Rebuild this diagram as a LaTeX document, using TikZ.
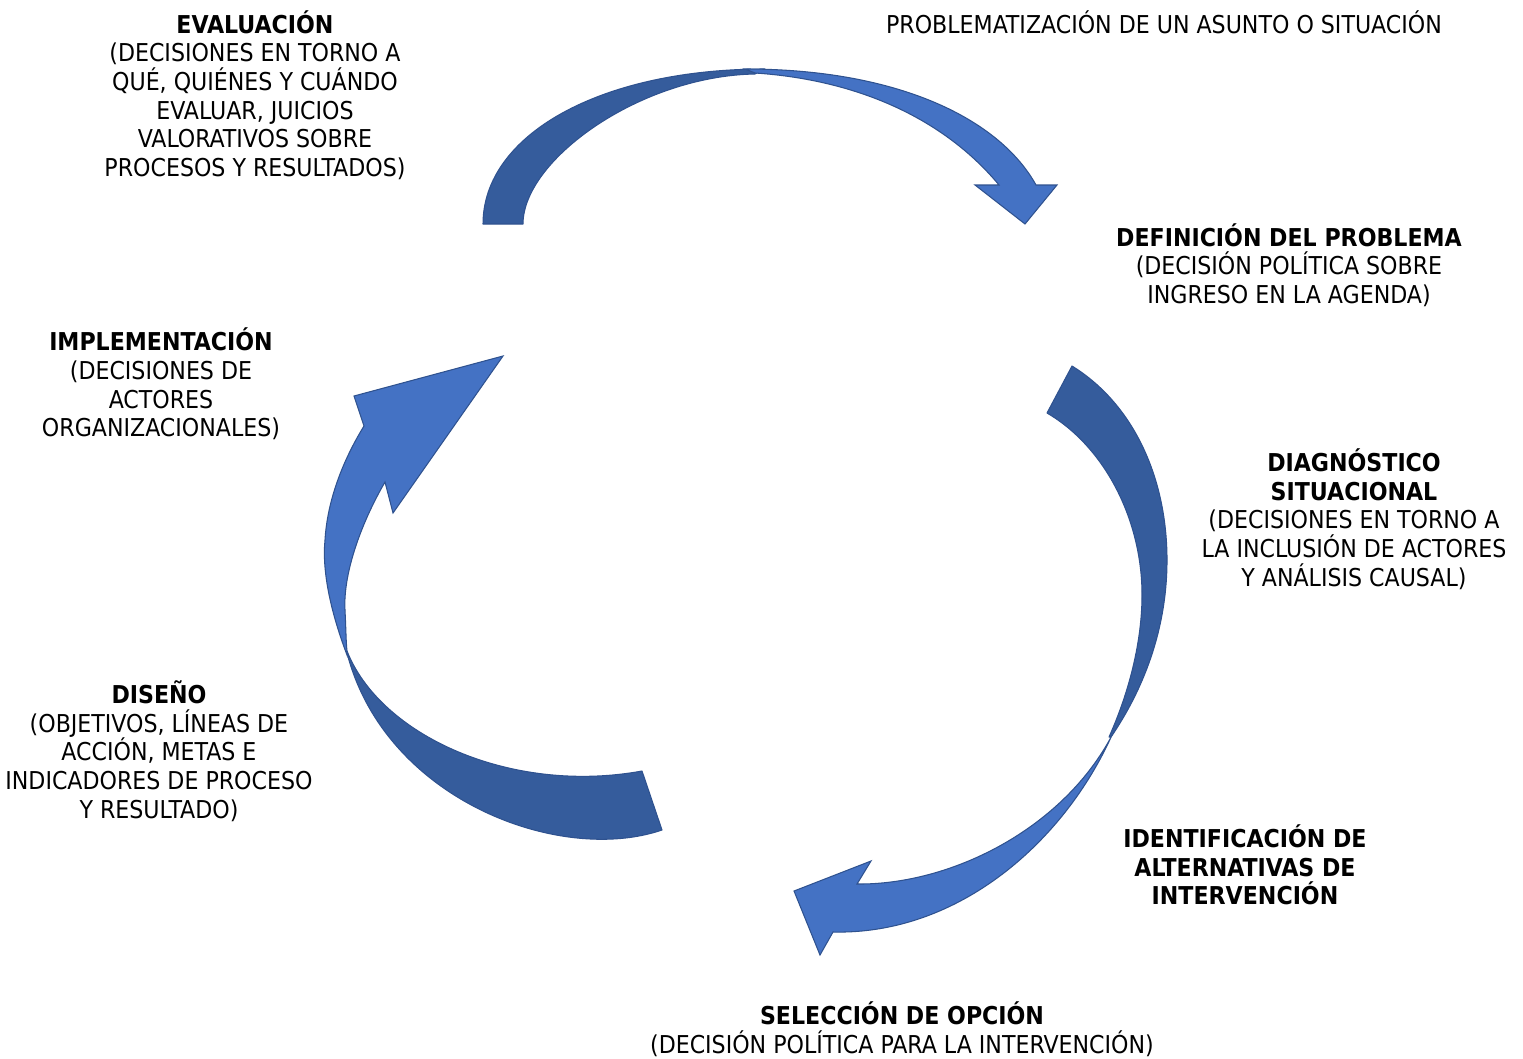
\documentclass[tikz,border=0pt]{standalone}
\usepackage{fontspec}
\setmainfont{DejaVu Sans Condensed}
\usepackage{tikz}
\usetikzlibrary{positioning, calc}
\definecolor{arrowback}{HTML}{355C9C}
\definecolor{arrowfront}{HTML}{4472C4}
\definecolor{arrowline}{HTML}{2F528F}
\tikzset{
	stage/.style={align=center, inner sep=0pt, font=\fontsize{14}{16.3}\selectfont},
	backside/.style={fill=arrowback, draw=arrowline, line width=0.6pt, line join=round},
	frontside/.style={fill=arrowfront, draw=arrowline, line width=0.6pt, line join=miter},
}

\begin{document}
\begin{tikzpicture}[x=0.02cm, y=-0.02cm]
	\useasboundingbox (0,0) rectangle (1523,1058);
	
	% upper arrow
	\draw[backside] (483,224) .. controls (483,135) and (600,69) .. (765,69)
		-- (755,74) .. controls (640,76) and (523,160) .. (523,224) -- cycle;
	\draw[frontside] (745,69) .. controls (900,69) and (1000,120) .. (1036,185)
		-- (1057,185) -- (1025,224) -- (975,185) -- (999,185)
		.. controls (945,120) and (860,80) .. (755,73) -- cycle;
	
	% right arrow
	\draw[backside] (1072,366) .. controls (1135,405) and (1167,480) .. (1167,560)
		.. controls (1167,630) and (1143,690) .. (1111,737)
		-- (1109,737) .. controls (1130,690) and (1142,640) .. (1142,595)
		.. controls (1142,520) and (1105,447) .. (1047,413) -- cycle;
	\draw[frontside] (1112,735) .. controls (1065,840) and (960,935) .. (833,932)
		-- (820,955) -- (794,891) -- (871,861) -- (857,884)
		.. controls (950,885) and (1060,830) .. (1110,739) -- cycle;
	
	% left arrow
	\draw[backside] (662,830) .. controls (560,865) and (385,800) .. (347,653)
		-- (347,651) .. controls (380,735) and (510,795) .. (642,771) -- cycle;
	\draw[frontside] (347,655) .. controls (330,610) and (322,570) .. (325,540)
		.. controls (327,505) and (340,465) .. (364,426)
		-- (354,396) -- (503,356) -- (393,513) -- (385,482)
		.. controls (360,525) and (343,575) .. (345,610)
		.. controls (346,630) and (346,642) .. (347,651) -- cycle;
	
	\node[stage] (PROBLEM) at (1164,22) {PROBLEMATIZACIÓN DE UN ASUNTO O SITUACIÓN};
	\node[stage] (EVAL) at (255,95) {\textbf{EVALUACIÓN}\\ (DECISIONES EN TORNO A\\ QUÉ, QUIÉNES Y CUÁNDO\\ EVALUAR, JUICIOS\\ VALORATIVOS SOBRE\\ PROCESOS Y RESULTADOS)};
	\node[stage] (DEF) at (1289,265) {\textbf{DEFINICIÓN DEL PROBLEMA}\\ (DECISIÓN POLÍTICA SOBRE\\ INGRESO EN LA AGENDA)};
	\node[stage] (DIAG) at (1354,519) {\textbf{DIAGNÓSTICO}\\ \textbf{SITUACIONAL}\\ (DECISIONES EN TORNO A\\ LA INCLUSIÓN DE ACTORES\\ Y ANÁLISIS CAUSAL)};
	\node[stage] (IDENT) at (1245,865) {\textbf{IDENTIFICACIÓN DE}\\ \textbf{ALTERNATIVAS DE}\\ \textbf{INTERVENCIÓN}};
	\node[stage] (SEL) at (902,1029) {\textbf{SELECCIÓN DE OPCIÓN}\\ (DECISIÓN POLÍTICA PARA LA INTERVENCIÓN)};
	\node[stage] (DIS) at (159,751) {\textbf{DISEÑO}\\ (OBJETIVOS, LÍNEAS DE\\ ACCIÓN, METAS E\\ INDICADORES DE PROCESO\\ Y RESULTADO)};
	\node[stage] (IMPL) at (161,384) {\textbf{IMPLEMENTACIÓN}\\ (DECISIONES DE\\ ACTORES\\ ORGANIZACIONALES)};
	
\end{tikzpicture}
\end{document}
